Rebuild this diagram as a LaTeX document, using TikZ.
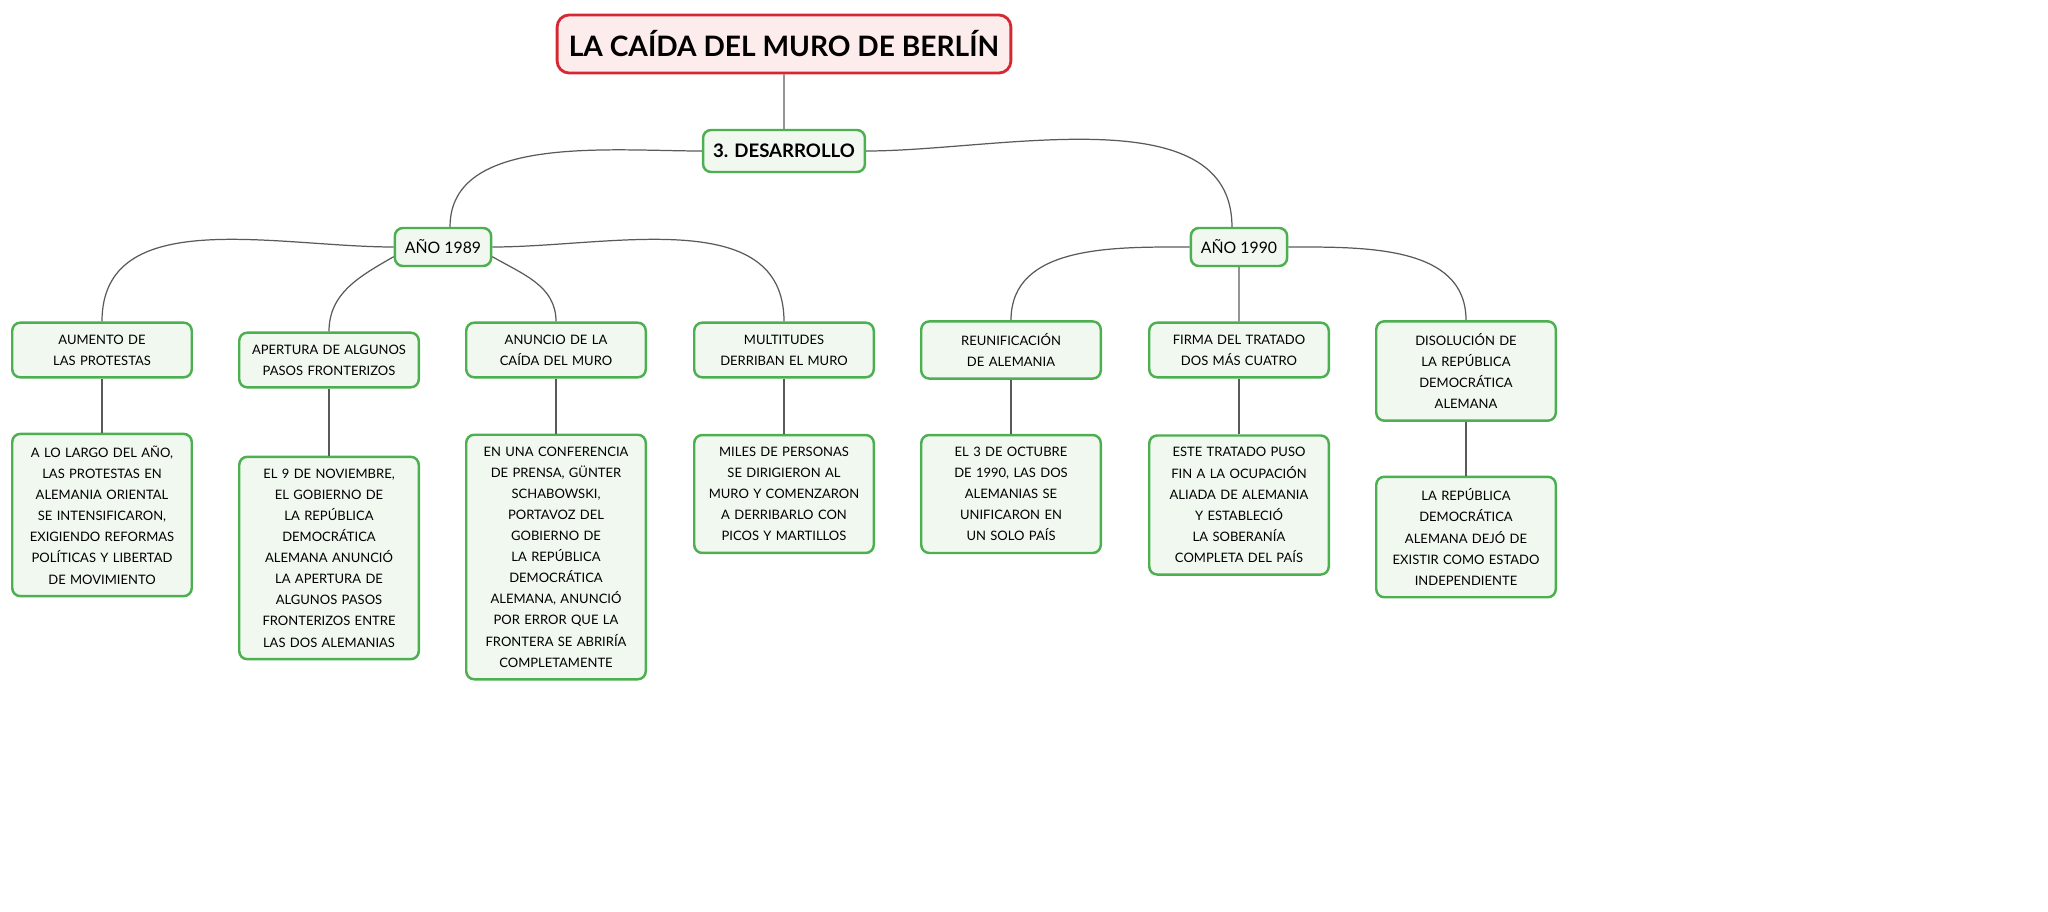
\documentclass[tikz,border=0pt]{standalone}
\usepackage{fontspec}
\setmainfont{Lato}
\usetikzlibrary{positioning}
\definecolor{boxgreen}{RGB}{76,175,80}
\definecolor{boxfill}{RGB}{241,248,240}
\definecolor{titlered}{RGB}{214,40,50}
\definecolor{titlefill}{RGB}{253,236,236}
\definecolor{linkgray}{RGB}{90,90,90}
\hyphenpenalty=10000
\exhyphenpenalty=10000
\tikzset{%
    topic/.style={draw=titlered,fill=titlefill,line width=0.8pt,rounded corners=1.2mm,
        minimum width=4.33cm,minimum height=0.58cm,font=\fontsize{8}{10}\selectfont\bfseries},
    branch/.style={draw=boxgreen,fill=boxfill,line width=0.7pt,rounded corners=0.8mm,
        minimum height=0.4cm,inner xsep=1mm,font=\fontsize{4.5}{6}\selectfont},
    leaf/.style={draw=boxgreen,fill=boxfill,line width=0.7pt,rounded corners=0.8mm,
        minimum width=1.72cm,text width=1.56cm,align=center,inner ysep=1.2mm,
        font=\fontsize{3.7}{6}\selectfont},
    link/.style={draw=linkgray,line width=0.35pt}
}
\begin{document}
\hyphenpenalty=10000
\exhyphenpenalty=10000
\begin{tikzpicture}[x=0.01cm,y=-0.01cm]
\useasboundingbox (0,0) rectangle (2048,912);
\node [topic] (title) at (784,44) {LA CAÍDA DEL MURO DE BERLÍN};
\node [branch,font=\fontsize{5.3}{7}\selectfont\bfseries,minimum height=0.42cm,minimum width=1.53cm] (dev) at (784,151) {3. DESARROLLO};
\node [branch,minimum width=0.9cm,minimum height=0.38cm] (y89) at (443,247) {AÑO 1989};
\node [branch,minimum width=0.9cm,minimum height=0.38cm] (y90) at (1239,247) {AÑO 1990};
%%%%% events
\node [leaf] (e1) at (102,350) {AUMENTO DE LAS PROTESTAS};
\node [leaf] (e2) at (329,360) {APERTURA DE ALGUNOS PASOS FRONTERIZOS};
\node [leaf] (e3) at (556,350) {ANUNCIO DE LA CAÍDA DEL MURO};
\node [leaf] (e4) at (784,350) {MULTITUDES DERRIBAN EL MURO};
\node [leaf] (e5) at (1011,350) {REUNIFICACIÓN DE ALEMANIA};
\node [leaf] (e6) at (1239,350) {FIRMA DEL TRATADO DOS MÁS CUATRO};
\node [leaf] (e7) at (1466,371) {DISOLUCIÓN DE LA REPÚBLICA DEMOCRÁTICA ALEMANA};
%%%%% details
\node [leaf] (d1) at (102,515) {A LO LARGO DEL AÑO, LAS PROTESTAS EN ALEMANIA ORIENTAL SE INTENSIFICARON, EXIGIENDO REFORMAS POLÍTICAS Y LIBERTAD DE MOVIMIENTO};
\node [leaf] (d2) at (329,558) {EL 9 DE NOVIEMBRE, EL GOBIERNO DE LA REPÚBLICA DEMOCRÁTICA ALEMANA ANUNCIÓ LA APERTURA DE ALGUNOS PASOS FRONTERIZOS ENTRE LAS DOS ALEMANIAS};
\node [leaf] (d3) at (556,557) {EN UNA CONFERENCIA DE PRENSA, GÜNTER SCHABOWSKI, PORTAVOZ DEL GOBIERNO DE LA REPÚBLICA DEMOCRÁTICA ALEMANA, ANUNCIÓ POR ERROR QUE LA FRONTERA SE ABRIRÍA COMPLETAMENTE};
\node [leaf] (d4) at (784,494) {MILES DE PERSONAS SE DIRIGIERON AL MURO Y COMENZARON A DERRIBARLO CON PICOS Y MARTILLOS};
\node [leaf] (d5) at (1011,494) {EL 3 DE OCTUBRE DE 1990, LAS DOS ALEMANIAS SE UNIFICARON EN UN SOLO PAÍS};
\node [leaf] (d6) at (1239,505) {ESTE TRATADO PUSO FIN A LA OCUPACIÓN ALIADA DE ALEMANIA Y ESTABLECIÓ LA SOBERANÍA COMPLETA DEL PAÍS};
\node [leaf] (d7) at (1466,537) {LA REPÚBLICA DEMOCRÁTICA ALEMANA DEJÓ DE EXISTIR COMO ESTADO INDEPENDIENTE};
%%%%% links
\path [link] (title) -- (dev)
    (dev.west) to[out=180,in=90,looseness=0.9] ([xshift=2pt]y89.north)
    (dev.east) to[out=0,in=90,looseness=0.9] ([xshift=-2pt]y90.north)
    (y89.west) to[out=180,in=90] (e1.north)
    ([yshift=3pt]y89.south west) to[out=210,in=90] (e2.north)
    ([yshift=3pt]y89.south east) to[out=-30,in=90] (e3.north)
    (y89.east) to[out=0,in=90] (e4.north)
    (y90.west) to[out=180,in=90] (e5.north)
    (y90) -- (e6)
    (y90.east) to[out=0,in=90] (e7.north);
\foreach \i in {1,...,7}
    \path [link] (e\i) -- (d\i);
\end{tikzpicture}
\end{document}
